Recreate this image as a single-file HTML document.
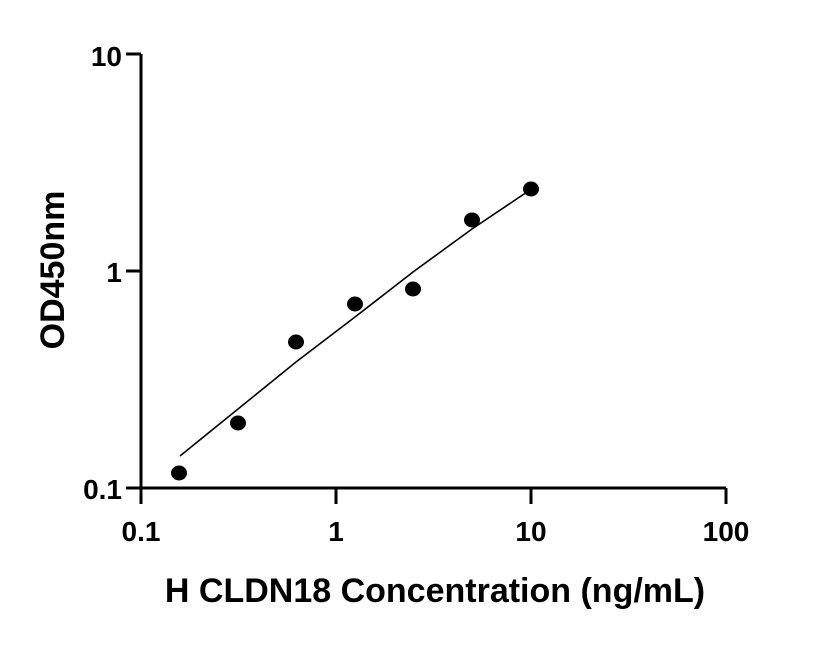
<!DOCTYPE html>
<html><head><style>body{margin:0;background:#fff}</style></head><body>
<svg width="816" height="640" viewBox="0 0 816 640" xmlns="http://www.w3.org/2000/svg" font-family="Liberation Sans, Arial, sans-serif" font-weight="bold">
<g stroke="#000" stroke-width="3" fill="none">
<path d="M141 54 V488 H726"/>
<path d="M126 54 H141 M126 271 H141 M126 488 H141"/>
<path d="M141 488 V504 M336 488 V504 M531 488 V504 M726 488 V504"/>
</g>
<polyline points="180,456 238,409 296,362 355,317 413,272 472,229 530,190" fill="none" stroke="#000" stroke-width="1.6"/>
<g fill="#000">
<ellipse cx="179" cy="473" rx="8" ry="7.5"/>
<ellipse cx="238" cy="423" rx="8" ry="7.5"/>
<ellipse cx="296" cy="342" rx="8" ry="7.5"/>
<ellipse cx="355" cy="304" rx="8" ry="7.5"/>
<ellipse cx="413" cy="289" rx="8" ry="7.5"/>
<ellipse cx="472" cy="220" rx="8" ry="7.5"/>
<ellipse cx="531" cy="189" rx="8" ry="7.5"/>
</g>
<g font-size="28" text-anchor="end">
<text x="122" y="66">10</text>
<text x="122" y="282">1</text>
<text x="122" y="499">0.1</text>
</g>
<g font-size="28" text-anchor="middle">
<text x="141" y="541">0.1</text>
<text x="336" y="541">1</text>
<text x="531" y="541">10</text>
<text x="726" y="541">100</text>
</g>
<text x="435" y="602" font-size="34" text-anchor="middle">H CLDN18 Concentration (ng/mL)</text>
<text transform="translate(64,270) rotate(-90)" font-size="34" text-anchor="middle">OD450nm</text>
</svg>
</body></html>
